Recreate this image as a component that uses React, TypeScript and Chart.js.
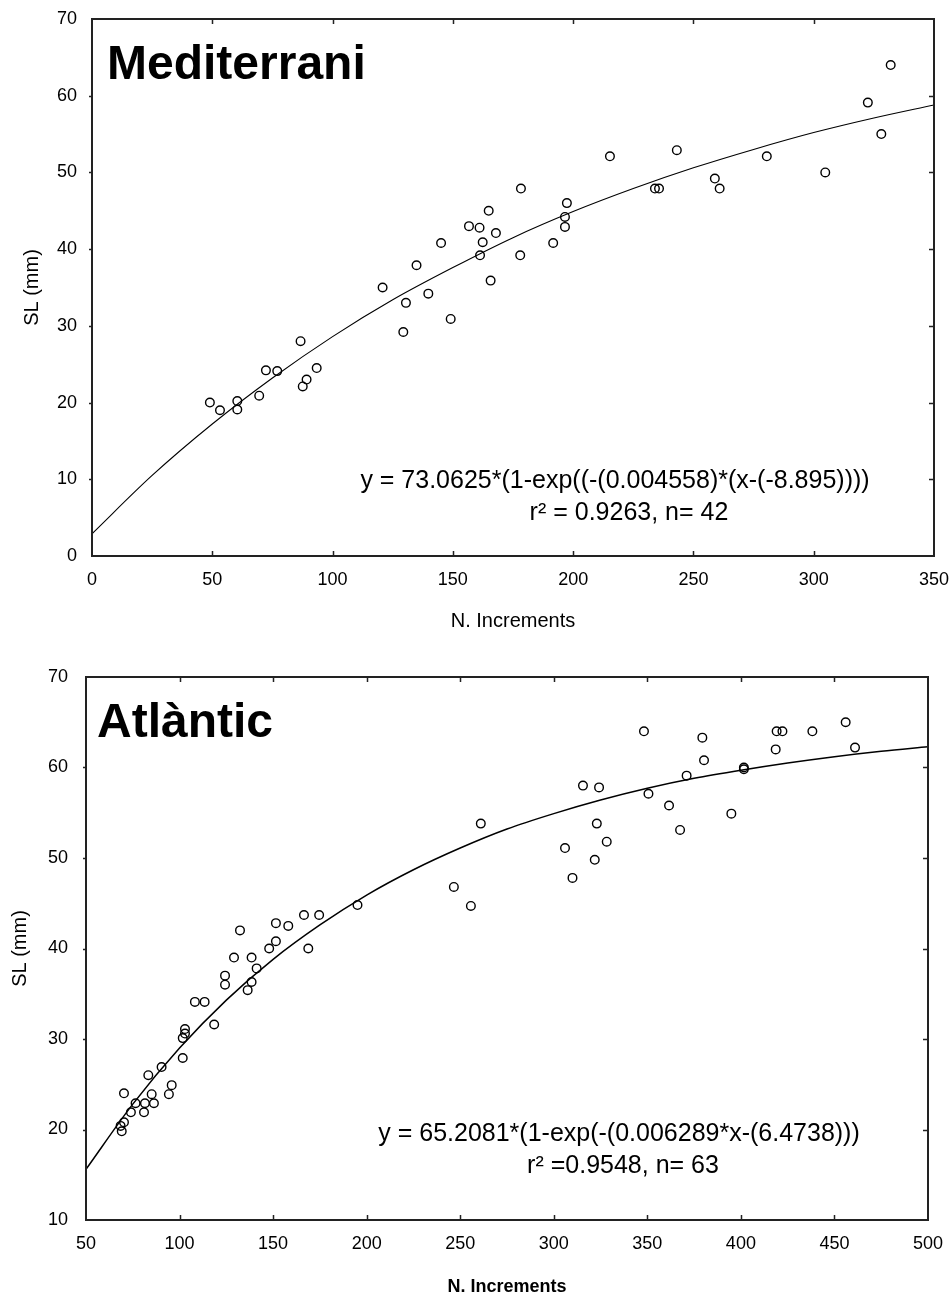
import React, { useEffect, useRef } from "react";
import { Chart, registerables } from "chart.js";

Chart.register(...registerables);

const FONT = "'Liberation Sans', Arial, sans-serif";

// ---------- Mediterrani data ----------
const medX = [49, 53.2, 60.4, 60.4, 69.5, 72.3, 77, 86.7, 87.6, 89.2, 93.4, 120.8, 129.4, 130.5, 134.9, 139.8, 145.1, 149.1, 156.7, 161.1, 162.4, 161.3, 164.9, 167.9, 165.7, 178.3, 178, 191.7, 197.4, 196.6, 196.6, 215.3, 234, 235.7, 243.1, 258.9, 260.9, 280.5, 304.8, 322.5, 328.1, 332];
const medY = [20, 19, 20.2, 19.1, 20.9, 24.2, 24.1, 28, 22.1, 23, 24.5, 35, 29.2, 33, 37.9, 34.2, 40.8, 30.9, 43, 42.8, 40.9, 39.2, 45, 42.1, 35.9, 47.9, 39.2, 40.8, 46, 44.2, 42.9, 52.1, 47.9, 47.9, 52.9, 49.2, 47.9, 52.1, 50, 59.1, 55, 64];
const medCurveX = [0, 25, 50, 75, 100, 125, 150, 175, 200, 225, 250, 275, 300, 325, 350];
const medCurveY = [2.9, 10.5, 17.2, 23.2, 28.6, 33.4, 37.6, 41.5, 44.9, 47.9, 50.6, 53.0, 55.2, 57.1, 58.8];
const medTitle = "Mediterrani";
const medEq1 = "y = 73.0625*(1-exp((-(0.004558)*(x-(-8.895))))";
const medEq2 = "r\u00B2 = 0.9263, n= 42";

// ---------- Atlàntic data ----------
const atlX = [68.5, 69.1, 70.3, 70.3, 74.0, 76.5, 81.0, 81.5, 83.3, 85.1, 86.3, 90.4, 94.3, 95.8, 101.7, 101.7, 102.9, 102.9, 108.2, 113.4, 118.5, 124.3, 124.3, 129.1, 132.3, 136.4, 138.5, 138.5, 141.2, 147.9, 151.5, 151.5, 158.1, 166.5, 168.8, 174.6, 195.1, 246.6, 255.7, 261, 306, 310, 315.6, 321.9, 323, 324.2, 328.3, 348.2, 350.6, 361.6, 367.5, 371, 379.4, 380.3, 394.9, 401.6, 401.6, 418.6, 419.1, 422.2, 438.2, 456, 461];
const atlY = [20.4, 19.8, 20.8, 24.0, 21.9, 22.9, 21.9, 22.9, 26.0, 23.9, 22.9, 26.9, 23.9, 24.9, 27.9, 30.1, 30.6, 31.1, 34.1, 34.1, 31.6, 36.0, 37.0, 39.0, 42.0, 35.4, 36.3, 39.0, 37.8, 40.0, 40.8, 42.8, 42.5, 43.7, 40.0, 43.7, 44.8, 46.8, 44.7, 53.8, 51.1, 47.8, 58.0, 49.8, 53.8, 57.8, 51.8, 64.0, 57.1, 55.8, 53.1, 59.1, 63.3, 60.8, 54.9, 59.8, 60.0, 62.0, 64.0, 64.0, 64.0, 65.0, 62.2];
const atlCurveX = [50, 75, 100, 125, 150, 175, 200, 225, 250, 275, 300, 325, 350, 375, 400, 425, 450, 475, 500];
const atlCurveY = [15.6, 22.8, 29.0, 34.3, 38.8, 42.6, 45.9, 48.7, 51.1, 53.2, 54.9, 56.4, 57.7, 58.8, 59.7, 60.5, 61.2, 61.8, 62.3];
const atlTitle = "Atl\u00E0ntic";
const atlEq1 = "y = 65.2081*(1-exp(-(0.006289*x-(6.4738)))";
const atlEq2 = "r\u00B2 =0.9548, n= 63";

const xTitle = "N. Increments";
const yTitle = "SL (mm)";

type Panel = {
  xs: number[]; ys: number[]; cx: number[]; cy: number[];
  xMin: number; xMax: number; yMin: number; yMax: number;
  title: string; eq1: string; eq2: string;
  width: number; height: number;
  padTop: number; padRight: number; yAxisW: number; xAxisH: number;
  yTickLen: number; xTickLen: number; yTitlePad: number;
  xTitleFont: any; xTitlePad: number;
  titleDx: number; titleDy: number;
  eq1Dx: number; eq1Dy: number; eq2Dx: number; eq2Dy: number;
  lineW: number;
};

function framePlugin(p: Panel) {
  return {
    id: "frame",
    afterDatasetsDraw(chart: any) {
      const { ctx, chartArea: a, scales } = chart;
      ctx.save();
      ctx.strokeStyle = "#222";
      ctx.lineWidth = 2;
      ctx.strokeRect(a.left, a.top, a.right - a.left, a.bottom - a.top);
      ctx.lineWidth = 1.5;
      ctx.beginPath();
      scales.x.ticks.forEach((t: any) => {
        const px = Math.round(scales.x.getPixelForValue(t.value)) + 0.5;
        if (px <= a.left + 2 || px >= a.right - 2) return;
        ctx.moveTo(px, a.top); ctx.lineTo(px, a.top + 5);
        ctx.moveTo(px, a.bottom); ctx.lineTo(px, a.bottom - 5);
      });
      scales.y.ticks.forEach((t: any) => {
        const py = Math.round(scales.y.getPixelForValue(t.value)) + 0.5;
        if (py <= a.top + 2 || py >= a.bottom - 2) return;
        ctx.moveTo(a.right, py); ctx.lineTo(a.right - 5, py);
        ctx.moveTo(a.left, py); ctx.lineTo(a.left - 3, py);
      });
      ctx.stroke();
      ctx.fillStyle = "#000";
      ctx.textBaseline = "alphabetic";
      ctx.textAlign = "left";
      ctx.font = `bold 48px ${FONT}`;
      ctx.fillText(p.title, a.left + p.titleDx, a.top + p.titleDy);
      ctx.font = `25px ${FONT}`;
      ctx.textAlign = "center";
      ctx.fillText(p.eq1, a.left + p.eq1Dx, a.top + p.eq1Dy);
      ctx.fillText(p.eq2, a.left + p.eq2Dx, a.top + p.eq2Dy);
      ctx.restore();
    },
  };
}

function build(canvas: HTMLCanvasElement, p: Panel) {
  const pts = p.xs.map((x, i) => ({ x, y: p.ys[i] }));
  const curve = p.cx.map((x, i) => ({ x, y: p.cy[i] }));
  const hiddenGrid = (len: number) => ({
    display: true,
    drawOnChartArea: false,
    drawTicks: true,
    tickLength: len,
    color: "rgba(0,0,0,0)",
  });
  return new Chart(canvas, {
    type: "scatter",
    data: {
      datasets: [
        {
          data: curve,
          showLine: true,
          borderColor: "#000",
          borderWidth: p.lineW,
          pointRadius: 0,
          cubicInterpolationMode: "monotone",
          fill: false,
        } as any,
        {
          data: pts,
          pointStyle: "circle",
          pointRadius: 4.3,
          pointBorderWidth: 1.4,
          borderColor: "#000",
          pointBorderColor: "#000",
          backgroundColor: "rgba(0,0,0,0)",
          pointBackgroundColor: "rgba(0,0,0,0)",
        } as any,
      ],
    },
    options: {
      responsive: false,
      animation: false,
      devicePixelRatio: 1,
      layout: { padding: { top: p.padTop, right: p.padRight, left: 0, bottom: 0 } },
      plugins: { legend: { display: false }, tooltip: { enabled: false } },
      scales: {
        x: {
          type: "linear",
          min: p.xMin,
          max: p.xMax,
          grid: hiddenGrid(p.xTickLen),
          border: { display: false },
          afterFit: (s: any) => { s.height = p.xAxisH; },
          ticks: {
            stepSize: 50,
            autoSkip: false,
            maxRotation: 0,
            padding: 0,
            color: "#000",
            font: { size: 18, family: FONT },
          },
          title: {
            display: true,
            text: xTitle,
            color: "#000",
            font: p.xTitleFont,
            padding: { top: 0, bottom: p.xTitlePad },
          },
        },
        y: {
          type: "linear",
          min: p.yMin,
          max: p.yMax,
          grid: hiddenGrid(p.yTickLen),
          border: { display: false },
          afterFit: (s: any) => { s.width = p.yAxisW; },
          ticks: {
            stepSize: 10,
            autoSkip: false,
            padding: 0,
            color: "#000",
            font: { size: 18, family: FONT },
          },
          title: {
            display: true,
            text: yTitle,
            color: "#000",
            font: { size: 20, family: FONT },
            padding: { top: p.yTitlePad, bottom: 0 },
          },
        },
      },
    } as any,
    plugins: [framePlugin(p)],
  });
}

const topPanel: Panel = {
  xs: medX, ys: medY, cx: medCurveX, cy: medCurveY,
  xMin: 0, xMax: 350, yMin: 0, yMax: 70,
  title: medTitle, eq1: medEq1, eq2: medEq2,
  width: 952, height: 640,
  padTop: 19, padRight: 18, yAxisW: 92, xAxisH: 84,
  yTickLen: 15, xTickLen: 13, yTitlePad: 20,
  xTitleFont: { size: 20, family: FONT }, xTitlePad: 7,
  titleDx: 15, titleDy: 60,
  eq1Dx: 523, eq1Dy: 469, eq2Dx: 537, eq2Dy: 501,
  lineW: 1.1,
};

const bottomPanel: Panel = {
  xs: atlX, ys: atlY, cx: atlCurveX, cy: atlCurveY,
  xMin: 50, xMax: 500, yMin: 10, yMax: 70,
  title: atlTitle, eq1: atlEq1, eq2: atlEq2,
  width: 952, height: 656,
  padTop: 37, padRight: 24, yAxisW: 86, xAxisH: 76,
  yTickLen: 18, xTickLen: 13, yTitlePad: 8,
  xTitleFont: { size: 18, family: FONT, weight: "bold", lineHeight: 1 }, xTitlePad: 0,
  titleDx: 11, titleDy: 60,
  eq1Dx: 533, eq1Dy: 464, eq2Dx: 537, eq2Dy: 496,
  lineW: 1.5,
};

function ChartCanvas({ panel, top }: { panel: Panel; top: number }) {
  const ref = useRef<HTMLCanvasElement>(null);
  useEffect(() => {
    if (!ref.current) return;
    const c = build(ref.current, panel);
    return () => c.destroy();
  }, [panel]);
  return (
    <canvas
      ref={ref}
      width={panel.width}
      height={panel.height}
      style={{ position: "absolute", left: 0, top, width: panel.width, height: panel.height, display: "block" }}
    />
  );
}

export default function App() {
  return (
    <div style={{ position: "absolute", left: 0, top: 0, width: 952, height: 1296, background: "#fff", overflow: "hidden" }}>
      <ChartCanvas panel={topPanel} top={0} />
      <ChartCanvas panel={bottomPanel} top={640} />
    </div>
  );
}
